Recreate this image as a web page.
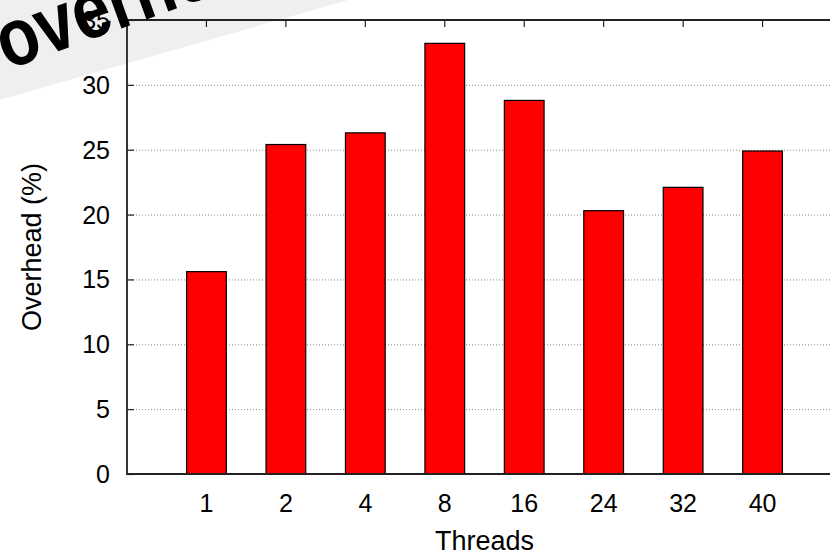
<!DOCTYPE html>
<html>
<head>
<meta charset="utf-8">
<script src="https://cdn.jsdelivr.net/npm/d3@7"></script>
<style>
	html, body { margin: 0; padding: 0; background: #fff; }
	svg { display: block; font-family: "Liberation Sans", Arial, Helvetica, sans-serif; }
	.tick-text { font-size: 25px; fill: #000; }
	.axis-label { font-size: 27px; fill: #000; }
</style>
</head>
<body>
<svg id="chart"></svg>
<script>
const threads = ["1", "2", "4", "8", "16", "24", "32", "40"];
const overhead = [15.6, 25.4, 26.3, 33.2, 28.8, 20.3, 22.1, 24.9];
const yTicks = [0, 5, 10, 15, 20, 25, 30, 35];
const bannerText = "overhead";

const width = 830;
const height = 555;
const margin = { top: 20, right: -12, bottom: 81, left: 127 };

const svg = d3
	.select("#chart")
	.attr("width", width)
	.attr("height", height);

// x runs from -1 to 8 in gnuplot style, right edge falls off the canvas
const x = d3
	.scaleLinear()
	.domain([-1, threads.length])
	.range([margin.left, width - margin.right]);

const y = d3
	.scaleLinear()
	.domain([0, 35])
	.range([height - margin.bottom, margin.top]);

const boxWidth = (x(1) - x(0)) * 0.5;

// grey corner banner, behind everything
svg.append("g")
	.attr("transform", "translate(6, 69) rotate(-16)")
	.append("rect")
	.attr("x", -100)
	.attr("y", -300)
	.attr("width", 1200)
	.attr("height", 328)
	.attr("fill", "#efefef");

// dotted grid
svg.append("g")
	.selectAll("line")
	.data(yTicks.filter(d => d > 0 && d < 35))
	.join("line")
	.attr("x1", x(-1))
	.attr("x2", width)
	.attr("y1", d => y(d) + 0.5)
	.attr("y2", d => y(d) + 0.5)
	.attr("stroke", "#888")
	.attr("stroke-width", 1)
	.attr("stroke-dasharray", "1,2");

// tick marks
const tickLen = 7;
svg.append("g")
	.selectAll("line")
	.data(yTicks)
	.join("line")
	.attr("x1", x(-1))
	.attr("x2", x(-1) + tickLen)
	.attr("y1", d => y(d) + 0.5)
	.attr("y2", d => y(d) + 0.5)
	.attr("stroke", "#222")
	.attr("stroke-width", 1.2);

const xTickG = svg.append("g");
threads.forEach((t, i) => {
	xTickG.append("line")
		.attr("x1", x(i))
		.attr("x2", x(i))
		.attr("y1", y(35))
		.attr("y2", y(35) + tickLen)
		.attr("stroke", "#222")
		.attr("stroke-width", 1.2);
	xTickG.append("line")
		.attr("x1", x(i))
		.attr("x2", x(i))
		.attr("y1", y(0))
		.attr("y2", y(0) - tickLen)
		.attr("stroke", "#222")
		.attr("stroke-width", 1.2);
});

// bars
svg.append("g")
	.selectAll("rect")
	.data(overhead)
	.join("rect")
	.attr("x", (d, i) => x(i) - boxWidth / 2)
	.attr("y", d => y(d))
	.attr("width", boxWidth)
	.attr("height", d => y(0) - y(d))
	.attr("fill", "#ff0000")
	.attr("stroke", "#000")
	.attr("stroke-width", 1.2);

// border (left, top, bottom)
svg.append("path")
	.attr("d", `M${width},${y(35)}H${x(-1)}V${y(0)}H${width}`)
	.attr("fill", "none")
	.attr("stroke", "#222")
	.attr("stroke-width", 1.8);

// tick labels
svg.append("g")
	.selectAll("text")
	.data(yTicks)
	.join("text")
	.attr("class", "tick-text")
	.attr("x", x(-1) - 17)
	.attr("y", d => y(d))
	.attr("dy", "0.36em")
	.attr("text-anchor", "end")
	.text(d => d);

svg.append("g")
	.selectAll("text")
	.data(threads)
	.join("text")
	.attr("class", "tick-text")
	.attr("x", (d, i) => x(i))
	.attr("y", 512)
	.attr("text-anchor", "middle")
	.text(d => d);

// axis labels
svg.append("text")
	.attr("class", "axis-label")
	.attr("x", (x(-1) + x(threads.length)) / 2)
	.attr("y", 550)
	.attr("text-anchor", "middle")
	.text("Threads");

svg.append("text")
	.attr("class", "axis-label")
	.attr("transform", `translate(41, ${(y(0) + y(35)) / 2}) rotate(-90)`)
	.attr("text-anchor", "middle")
	.text("Overhead (%)");

// banner text on top, a bit steeper and stretched like the reference
svg.append("text")
	.attr("transform", "translate(7, 70) rotate(-20) scale(1, 1.2)")
	.attr("font-size", 68)
	.attr("font-weight", "bold")
	.attr("fill", "#000")
	.text(bannerText);
</script>
</body>
</html>
